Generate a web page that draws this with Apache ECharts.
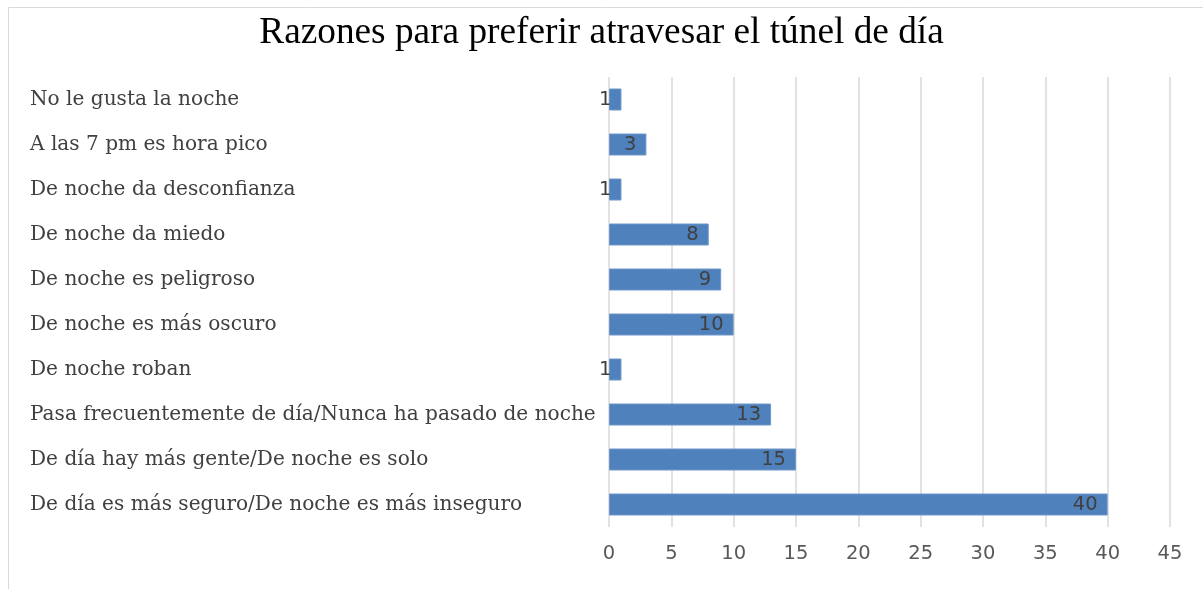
<!DOCTYPE html>
<html>
<head>
<meta charset="utf-8">
<script src="https://cdn.jsdelivr.net/npm/echarts@6/dist/echarts.min.js"></script>
<style>
  html, body { margin: 0; padding: 0; background: #fff; }
  #chart { width: 1203px; height: 589px; }
</style>
</head>
<body>
<div id="chart"></div>
<script>
// categories, top to bottom as in the picture
var razones = [
  "No le gusta la noche",
  "A las 7 pm es hora pico",
  "De noche da desconfianza",
  "De noche da miedo",
  "De noche es peligroso",
  "De noche es más oscuro",
  "De noche roban",
  "Pasa frecuentemente de día/Nunca ha pasado de noche",
  "De día hay más gente/De noche es solo",
  "De día es más seguro/De noche es más inseguro"
];
var cantidades = [1, 3, 1, 8, 9, 10, 1, 13, 15, 40];
var escala = { min: 0, max: 45, interval: 5 };

var chart = echarts.init(document.getElementById("chart"));
chart.setOption({
  animation: false,
  title: {
    text: "Razones para preferir atravesar el túnel de día",
    left: "center",
    top: 10,
    textStyle: {
      fontFamily: "Liberation Serif",
      fontSize: 37.3,
      fontWeight: "normal",
      color: "#000"
    }
  },
  graphic: [{
    type: "rect",
    shape: { x: 8.5, y: 7.5, width: 1210, height: 600 },
    style: { fill: "none", stroke: "#d9d9d9", lineWidth: 1 }
  }],
  grid: { left: 609, right: 33, top: 77, height: 450 },
  xAxis: {
    type: "value",
    min: escala.min,
    max: escala.max,
    interval: escala.interval,
    axisLine: { show: false },
    axisTick: { show: false },
    splitLine: { lineStyle: { color: "#d9d9d9", width: 1.5 } },
    axisLabel: {
      margin: 17,
      fontFamily: "DejaVu Sans",
      fontSize: 19.5,
      color: "#595959"
    }
  },
  yAxis: {
    type: "category",
    inverse: true,
    data: razones,
    axisLine: { show: false },
    axisTick: { show: false },
    axisLabel: {
      align: "left",
      margin: 579,
      fontFamily: "DejaVu Serif",
      fontSize: 20.1,
      color: "#404040"
    }
  },
  series: [{
    type: "bar",
    data: cantidades,
    barWidth: 22,
    itemStyle: { color: "#4f81bd", borderColor: "#6f97c8", borderWidth: 1 },
    label: {
      show: true,
      position: "insideRight",
      distance: 10,
      fontFamily: "DejaVu Sans",
      fontSize: 19.5,
      color: "#404040"
    }
  }]
});
</script>
</body>
</html>
